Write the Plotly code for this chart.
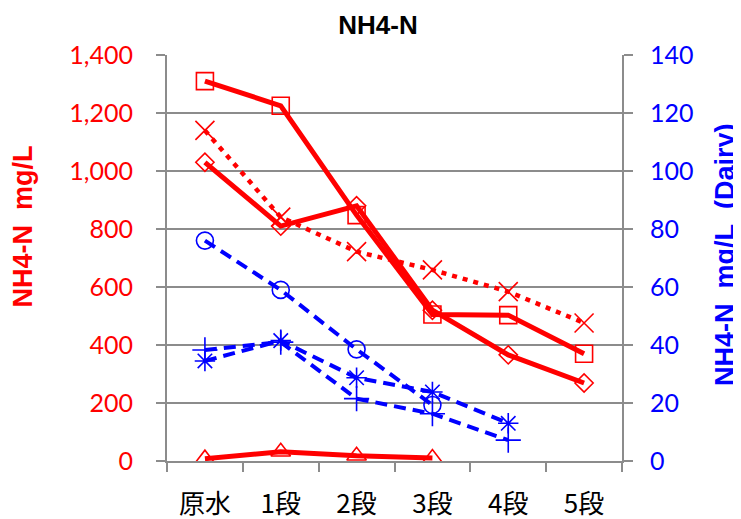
import plotly.graph_objects as go

categories = ["原水", "1段", "2段", "3段", "4段", "5段"]

# Left axis (mg/L)
sq_vals = [1310, 1225, 848, 505, 503, 370]
dia_vals = [1030, 810, 880, 520, 366, 269]
x_vals = [1140, 841, 722, 659, 584, 476]
tri_vals = [8, 32, 18, 10]

# Right axis (Dairy, mg/L)
circ_vals = [76, 59, 38.5, 19.3]
ast_vals = [34.5, 41.5, 28.7, 23.8, 13]
plus_vals = [38.3, 41, 21.5, 16.3, 7.2]

RED = "#FF0000"
BLUE = "#0000FF"
GRID = "#8C8C8C"
SP = "\u00a0\u00a0"

# page offset of the figure (browser default body margin)
OFF = 8
PL, PR, PT, PB = 167 - OFF, 622 - OFF, 55 - OFF, 461 - OFF
W, H = 741, 519

fig = go.Figure()

def add(vals, color, symbol, size, dash, width, yaxis="y"):
    fig.add_trace(go.Scatter(
        x=categories[:len(vals)], y=vals, mode="lines+markers", yaxis=yaxis,
        line=dict(color=color, width=width, dash=dash),
        marker=dict(symbol=symbol, size=size, color=color,
                    line=dict(color=color, width=1.6)),
        showlegend=False,
    ))

add(circ_vals, BLUE, "circle-open", 17, "12px,7px", 4, "y2")
add(ast_vals, BLUE, "asterisk-open", 17, "12px,7px", 4, "y2")
add(plus_vals, BLUE, "cross-thin-open", 18, "12px,7px", 4, "y2")
add(tri_vals, RED, "triangle-up-open", 17, "solid", 5)
add(x_vals, RED, "x-thin-open", 19, "5px,6px", 4.5)
add(dia_vals, RED, "diamond-open", 14, "solid", 5)
add(sq_vals, RED, "square-open", 17, "solid", 5)

pw = PR - PL
ph = PB - PT

fig.update_layout(
    width=W, height=H,
    margin=dict(l=PL, r=W - PR, t=PT, b=H - PB),
    paper_bgcolor="white", plot_bgcolor="white",
    font=dict(family="Lato, Noto Sans CJK JP", size=22, color="black"),
    title=dict(text="<b>NH4-N</b>", x=(378 - OFF) / W, xref="container", xanchor="center",
               y=1 - 17 / H, yref="container", yanchor="middle", pad=dict(t=0, b=0),
               font=dict(size=26, color="black", family="Liberation Sans")),
    xaxis=dict(
        type="category", range=[-0.5, 5.5], tickson="boundaries", automargin=False,
        ticks="outside", ticklen=9, tickcolor=GRID, tickwidth=1.5,
        showline=True, linecolor=GRID, linewidth=2, showgrid=False,
        ticklabelstandoff=19,
        tickfont=dict(size=26, color="black", family="Noto Sans CJK JP"),
    ),
    yaxis=dict(
        range=[0, 1400], dtick=200, tickformat=",", showgrid=True, automargin=False,
        gridcolor=GRID, gridwidth=1.5, showline=True, linecolor=GRID, linewidth=2,
        ticks="outside", ticklen=9, tickcolor=GRID, tickwidth=1.5,
        ticklabelstandoff=18,
        tickfont=dict(size=25, color=RED), zeroline=False,
    ),
    yaxis2=dict(
        range=[0, 140], dtick=20, overlaying="y", side="right", showgrid=False,
        automargin=False, showline=True, linecolor=GRID, linewidth=2,
        ticks="outside", ticklen=9, tickcolor=GRID, tickwidth=1.5,
        ticklabelstandoff=12,
        tickfont=dict(size=25, color=BLUE), zeroline=False,
    ),
    annotations=[
        dict(text="<b>NH4-N" + SP + "mg/L</b>", xref="paper", yref="paper",
             x=-(167 - 22.5) / pw, y=(461 - 227) / ph, textangle=-90,
             xanchor="center", yanchor="middle", showarrow=False,
             font=dict(size=27, color=RED, family="Liberation Sans")),
        dict(text="<b>NH4-N" + SP + "mg/L" + SP + "(Dairy)</b>", xref="paper", yref="paper",
             x=1 + (725 - 622) / pw, y=(461 - 255) / ph, textangle=-90,
             xanchor="center", yanchor="middle", showarrow=False,
             font=dict(size=27, color=BLUE, family="Liberation Sans")),
    ],
)

fig.write_html("out.html")
